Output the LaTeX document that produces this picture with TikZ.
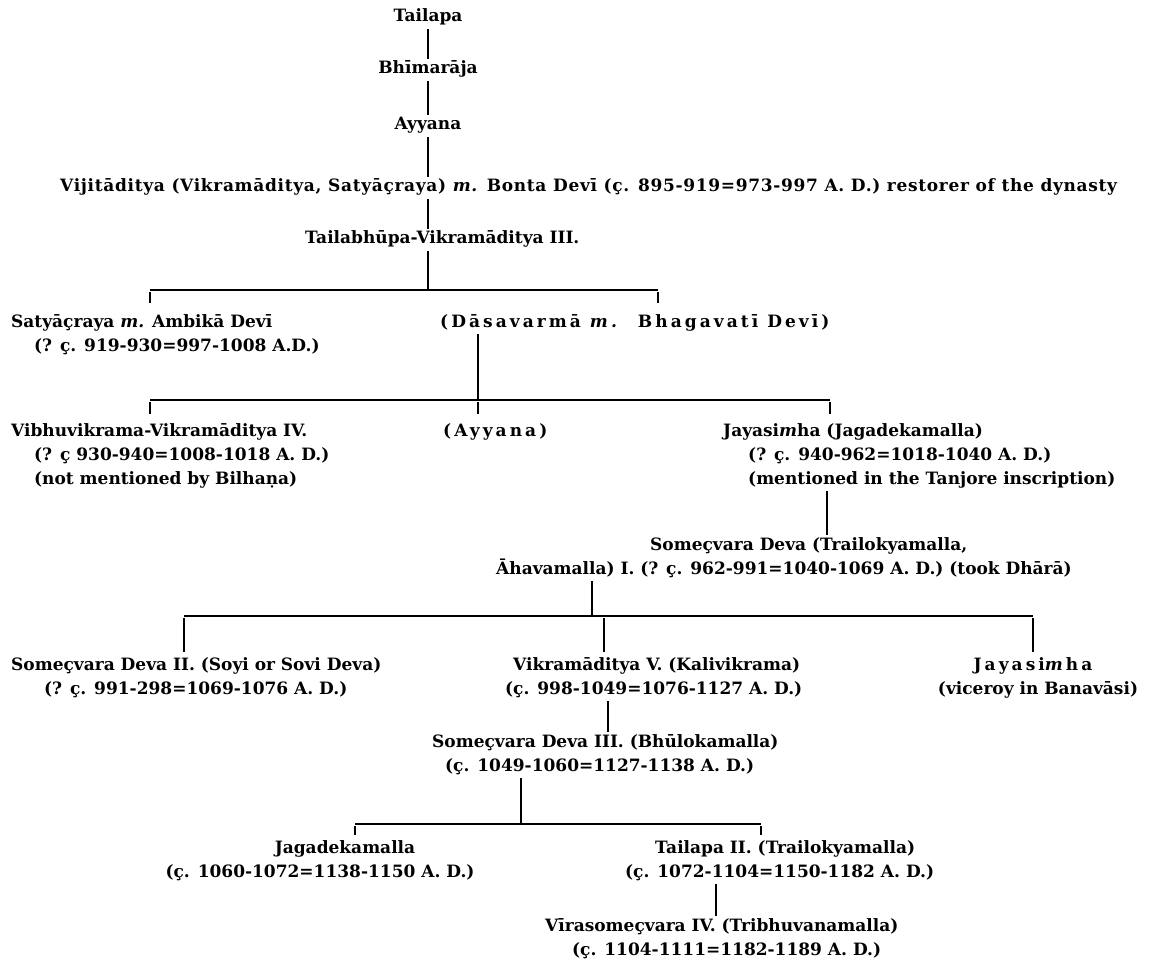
\documentclass[tikz,border=0pt]{standalone}
\usepackage{fontspec}
\setmainfont{DejaVu Serif}
\newfontfamily\spacedfont[LetterSpace=18]{DejaVu Serif}
\newfontfamily\widefont[LetterSpace=4]{DejaVu Serif}
\begin{document}
\begin{tikzpicture}[x=1pt,y=-1pt,
  txt/.style={inner xsep=0pt, inner ysep=3pt, text height=12pt, text depth=4pt,
    font=\fontsize{17}{24}\selectfont\bfseries},
  sp/.style={font=\spacedfont\fontsize{17}{24}\selectfont\bfseries},
  wd/.style={font=\widefont\fontsize{17}{24}\selectfont\bfseries},
  lt/.style={txt, anchor=base west},
  ct/.style={txt, anchor=base},
  link/.style={line width=1.4pt},
  tick/.style={link, shorten <=2pt, shorten >=#1},
  tick/.default=3pt]
\useasboundingbox (0,0) rectangle (1172,968);
\fill[white] (0,0) rectangle (1172,968);

% --- upper line of descent
\node[ct] (tailapa) at (428,22) {Tailapa};
\node[ct] (bhima) at (428,74) {Bhīmarāja};
\node[ct] (ayy0) at (428,130) {Ayyana};
\node[lt, wd] (viji) at (60,192) {Vijitāditya (Vikramāditya, Satyāçraya) \textit{m.} Bonta Devī (ç. 895-919=973-997 A. D.) restorer of the dynasty};
\node[lt] (tailab) at (305,244) {Tailabhūpa-Vikramāditya III.};

\draw[link] (tailapa) -- (bhima);
\draw[link] (bhima) -- (ayy0);
\draw[link] (ayy0.south) -- (ayy0.south |- viji.north);
\draw[link] (ayy0.south |- viji.south) -- (ayy0.south |- tailab.north);

% --- bus A
\coordinate (bA0) at (428,290);
\coordinate (bA1) at (150,290);
\coordinate (bA2) at (658,290);
\node[lt] (satya1) at (11,327) {Satyāçraya \textit{m.} Ambikā Devī};
\node[lt] (satya2) at (34,351) {(? ç. 919-930=997-1008 A.D.)};
\node[lt, sp] (dasa) at (440,327) {(Dāsavarmā \textit{m.}\hspace{6pt} Bhagavatī Devī)};
\draw[link] (bA0 |- tailab.south) -- (bA0);
\draw[link] (bA1) -- (bA2);
\draw[tick=9pt] (bA1) -- (bA1 |- satya1.north);
\draw[tick=9pt] (bA2) -- (bA2 |- dasa.north);

% --- bus B
\coordinate (bB1) at (150,400);
\coordinate (bB2) at (478,400);
\coordinate (bB3) at (830,400);
\node[lt] (vibhu1) at (11,436) {Vibhuvikrama-Vikramāditya IV.};
\node[lt] (vibhu2) at (34,460) {(? ç 930-940=1008-1018 A. D.)};
\node[lt] (vibhu3) at (34,484) {(not mentioned by Bilhaṇa)};
\node[lt, sp] (ayyB) at (443,436) {(Ayyana)};
\node[lt] (jaya1) at (723,436) {Jayasi\textit{m}ha (Jagadekamalla)};
\node[lt] (jaya2) at (748,460) {(? ç. 940-962=1018-1040 A. D.)};
\node[lt] (jaya3) at (748,484) {(mentioned in the Tanjore inscription)};
\draw[link] (bB2 |- dasa.south) -- (bB2);
\draw[link] (bB1) -- (bB3);
\draw[tick=7pt] (bB1) -- (bB1 |- vibhu1.north);
\draw[tick=7pt] (bB2) -- (bB2 |- ayyB.north);
\draw[tick=7pt] (bB3) -- (bB3 |- jaya1.north);

% --- Someçvara I
\coordinate (jv) at (827,0);
\node[lt] (some1a) at (650,550) {Someçvara Deva (Trailokyamalla,};
\node[lt] (some1b) at (496,574) {Āhavamalla) I. (? ç. 962-991=1040-1069 A. D.) (took Dhārā)};
\draw[link] (jv |- jaya3.south) -- (jv |- some1a.north);

% --- bus C
\coordinate (bC0) at (592,616);
\coordinate (bC1) at (184,616);
\coordinate (bC2) at (604,616);
\coordinate (bC3) at (1033,616);
\node[lt] (some2a) at (11,670) {Someçvara Deva II. (Soyi or Sovi Deva)};
\node[lt] (some2b) at (44,694) {(? ç. 991-298=1069-1076 A. D.)};
\node[lt] (vik1) at (513,670) {Vikramāditya V. (Kalivikrama)};
\node[lt] (vik2) at (505,694) {(ç. 998-1049=1076-1127 A. D.)};
\node[ct, sp] (jayv1) at (1033,670) {Jayasi\textit{m}ha};
\node[ct] (jayv2) at (1038,694) {(viceroy in Banavāsi)};
\draw[link] (bC0 |- some1b.south) -- (bC0);
\draw[link] (bC1) -- (bC3);
\draw[tick] (bC1) -- (bC1 |- some2a.north);
\draw[tick] (bC2) -- (bC2 |- vik1.north);
\draw[tick] (bC3) -- (bC3 |- jayv1.north);

% --- Someçvara III
\coordinate (vv) at (608,0);
\node[lt] (some3a) at (432,747) {Someçvara Deva III. (Bhūlokamalla)};
\node[lt] (some3b) at (445,771) {(ç. 1049-1060=1127-1138 A. D.)};
\draw[link] (vv |- vik2.south) -- (vv |- some3a.north);

% --- bus D
\coordinate (bD0) at (521,824);
\coordinate (bD1) at (355,824);
\coordinate (bD2) at (761,824);
\node[ct] (jag1) at (345,853) {Jagadekamalla};
\node[ct] (jag2) at (320,877) {(ç. 1060-1072=1138-1150 A. D.)};
\node[lt] (tail2a) at (655,853) {Tailapa II. (Trailokyamalla)};
\node[lt] (tail2b) at (625,877) {(ç. 1072-1104=1150-1182 A. D.)};
\draw[link] (bD0 |- some3b.south) -- (bD0);
\draw[link] (bD1) -- (bD2);
\draw[tick] (bD1) -- (bD1 |- jag1.north);
\draw[tick] (bD2) -- (bD2 |- tail2a.north);

% --- Vīrasomeçvara IV
\coordinate (tv) at (716,0);
\node[lt] (vira1) at (545,931) {Vīrasomeçvara IV. (Tribhuvanamalla)};
\node[lt] (vira2) at (572,955) {(ç. 1104-1111=1182-1189 A. D.)};
\draw[link] (tv |- tail2b.south) -- (tv |- vira1.north);
\end{tikzpicture}
\end{document}
